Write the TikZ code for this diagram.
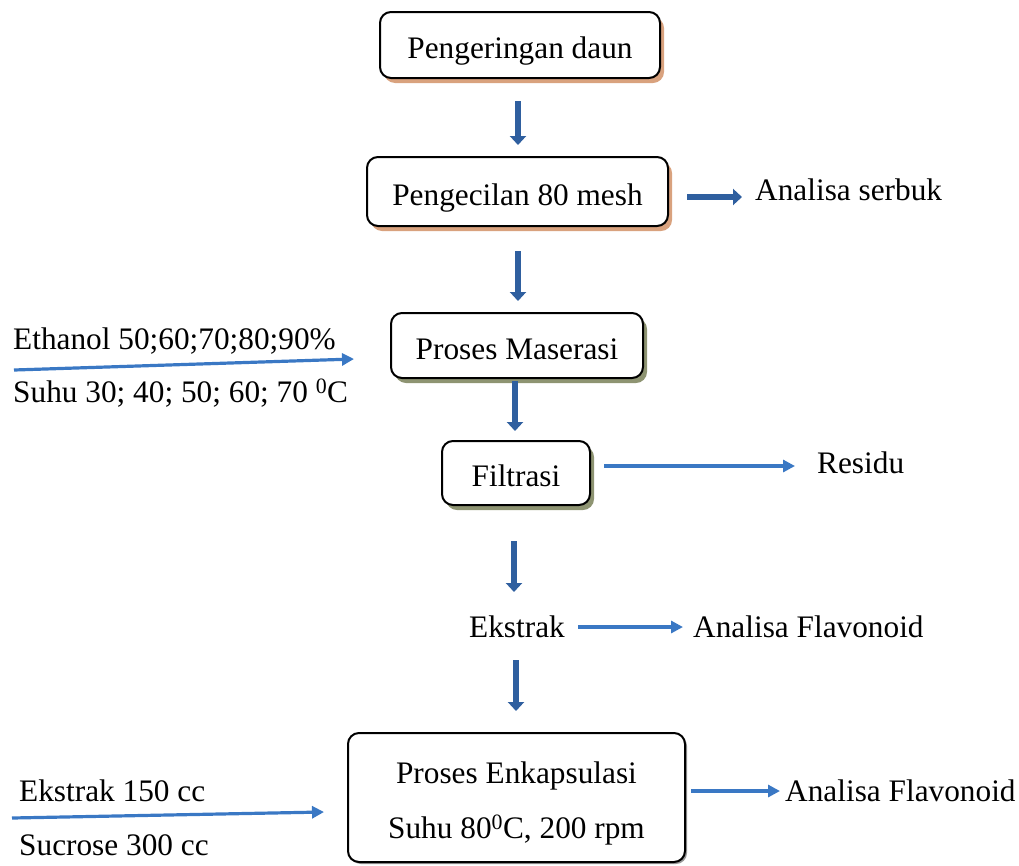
\documentclass[tikz,border=0pt]{standalone}
\usepackage{fontspec}
\setmainfont{Liberation Serif}
\usetikzlibrary{arrows.meta,shadows,calc}
\definecolor{thickblue}{HTML}{2F5F9F}
\definecolor{thinblue}{HTML}{3A78C4}
\definecolor{shbrown}{HTML}{D9A27E}
\definecolor{sholive}{HTML}{8E9472}
\begin{document}
\begin{tikzpicture}[x=1pt,y=-1pt,
  every node/.style={font=\fontsize{31.3}{38}\selectfont, inner sep=0pt},
  procbox/.style={draw=black, line width=2pt, rounded corners=11pt, fill=white, text height=34pt, text depth=7pt},
  brownsh/.style={drop shadow={shadow xshift=4pt, shadow yshift=-5pt, fill=shbrown, opacity=1}},
  olivesh/.style={drop shadow={shadow xshift=4pt, shadow yshift=-5pt, fill=sholive, opacity=1}},
  greysh/.style={drop shadow={shadow xshift=2pt, shadow yshift=-2pt, fill=black!40, opacity=1}},
  bigarrow/.style={draw=thickblue, line width=5.5pt, -{Triangle[width=16pt,length=9pt]}},
  thinarrow/.style={draw=thinblue, line width=3.2pt, -{Triangle[width=12pt,length=12pt]}},
  plain/.style={anchor=west}
]
\useasboundingbox (0,0) rectangle (1019,865);

\node[procbox, brownsh, minimum width=280pt, minimum height=66pt] (b1) at (520,45) {Pengeringan daun};
\node[procbox, brownsh, minimum width=301pt, minimum height=69pt] (b2) at (517.5,191.5) {Pengecilan 80 mesh};
\node[procbox, olivesh, minimum width=252pt, minimum height=65pt] (b3) at (517,345.5) {Proses Maserasi};
\node[procbox, olivesh, minimum width=148pt, minimum height=64pt] (b4) at (516,473) {Filtrasi};
\node[procbox, greysh, minimum width=337pt, minimum height=129pt, align=center, text height=, text depth=] (b5) at (516.5,797.5)
  {\rule{0pt}{6pt}\\[-10pt]Proses Enkapsulasi\\[17pt]Suhu 80\textsuperscript{0}C, 200 rpm};

\node[plain] (serbuk) at (755,190) {Analisa serbuk};
\node[plain] (eth) at (13,341) {Ethanol 50;60;70;80;90\%};
\node[plain] (suhu) at (13,393) {Suhu 30; 40; 50; 60; 70 \textsuperscript{0}C};
\node[plain] (residu) at (817,463) {Residu};
\node[plain] (ekstrak) at (469,627) {Ekstrak};
\node[plain] (flav1) at (693,627) {Analisa Flavonoid};
\node[plain] (ek150) at (19,791) {Ekstrak 150 cc};
\node[plain] (sucr) at (19,845) {Sucrose 300 cc};
\node[plain] (flav2) at (785,791) {Analisa Flavonoid};

\coordinate (in1) at (14,370);
\coordinate (in2) at (12,818);

% vertical thick arrows
\draw[bigarrow] ($(b1.south)+(-2,22)$) -- ($(b2.north)+(0.5,-11)$);
\draw[bigarrow] ($(b2.south)+(0.5,24)$) -- ($(b3.north)+(1,-11)$);
\draw[bigarrow] ($(b3.south)+(-2,2)$) -- ($(b4.north)+(-1,-9)$);
\draw[bigarrow] ($(b4.south)+(-2,35)$) -- ($(ekstrak.west)+(45,-35)$);
\draw[bigarrow] ($(ekstrak.west)+(47,33)$) -- ($(b5.north)+(-0.5,-21)$);

% horizontal arrows
\draw[bigarrow] ($(b2.east)+(18,5.5)$) -- ($(serbuk.west)+(-13,7)$);
\draw[thinarrow] (in1) -- ($(b3.west)+(-36,13.5)$);
\draw[thinarrow] ($(b4.east)+(13,-7)$) -- ($(residu.west)+(-22,3)$);
\draw[thinarrow] ($(ekstrak.east)+(13,0)$) -- ($(flav1.west)+(-10,0)$);
\draw[thinarrow] (in2) -- ($(b5.west)+(-23,14.5)$);
\draw[thinarrow] ($(b5.east)+(5,-6.5)$) -- ($(flav2.west)+(-5,0)$);
\end{tikzpicture}
\end{document}
